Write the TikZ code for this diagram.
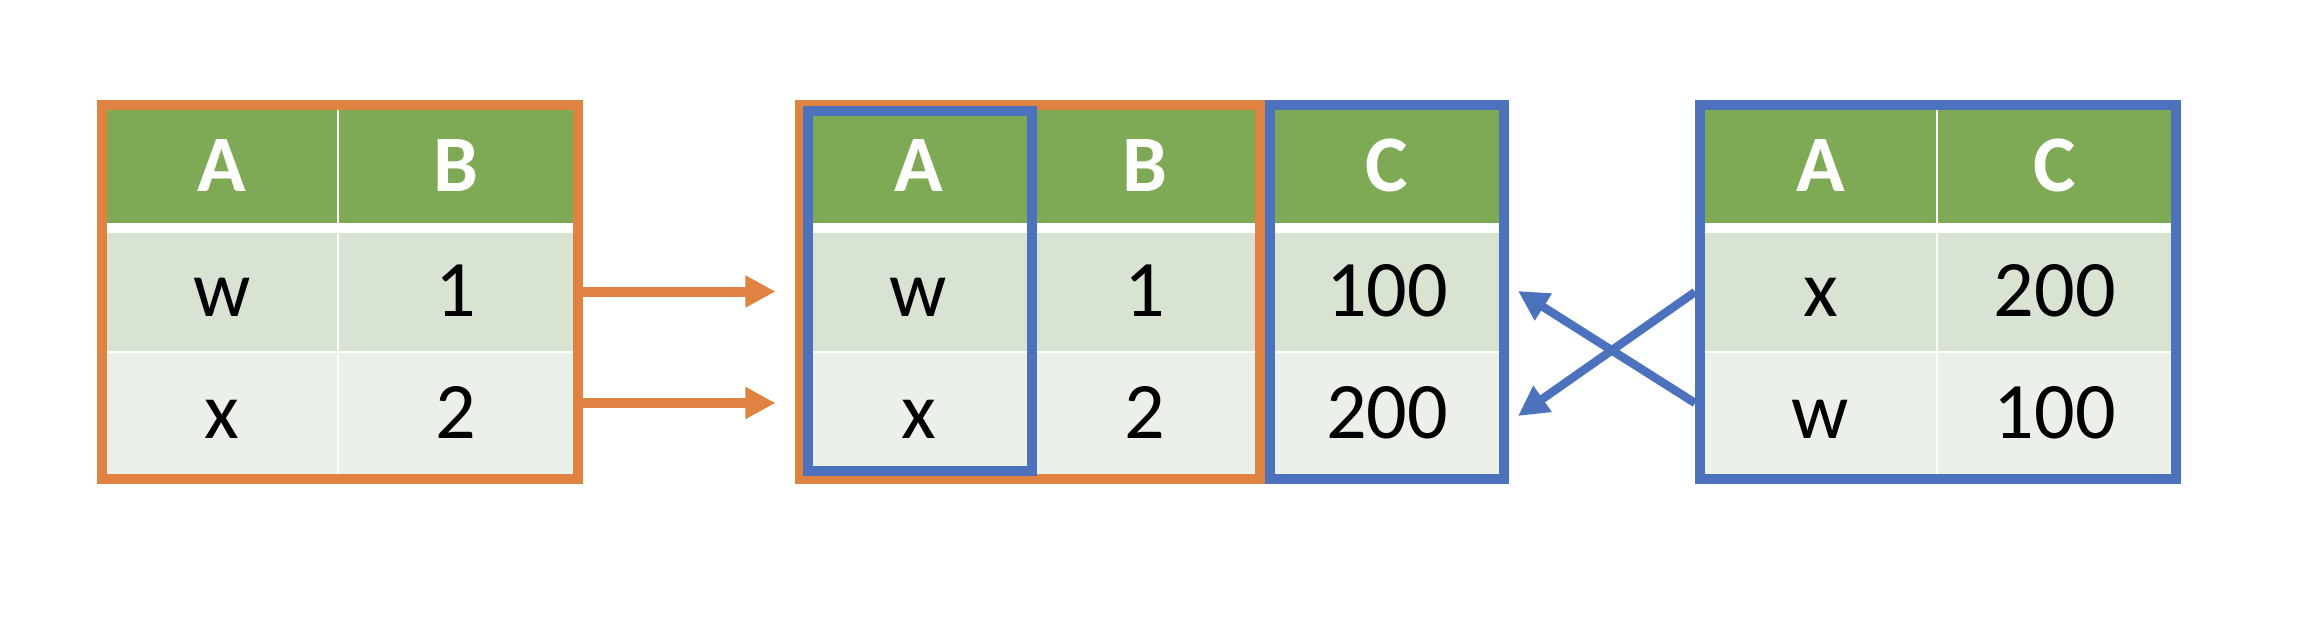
\documentclass[tikz,border=0pt]{standalone}
\usepackage{fontspec}
\setmainfont{Carlito}
\usetikzlibrary{arrows.meta}

\definecolor{hdgreen}{RGB}{127,170,85}
\definecolor{rowone}{RGB}{217,227,210}
\definecolor{rowtwo}{RGB}{235,240,232}
\definecolor{joinorange}{RGB}{224,130,66}
\definecolor{joinblue}{RGB}{76,114,190}

\begin{document}
\begin{tikzpicture}[x=0.01cm,y=-0.01cm,>={Triangle[length=0.3cm,width=0.3cm]},
                    line width=0.1cm]
  \tikzstyle{cell}=[draw=none,inner sep=0pt,text height=0.5cm,text depth=0pt,
                    font=\fontsize{22.8}{27}\selectfont]
  \tikzstyle{head}=[cell,fill=hdgreen,text=white,minimum height=1.127cm,
                    font=\fontsize{22.8}{27}\selectfont\bfseries]
  \tikzstyle{rowa}=[cell,fill=rowone,minimum height=1.183cm]
  \tikzstyle{rowb}=[cell,fill=rowtwo,minimum height=1.205cm]
  \tikzstyle{orangeframe}=[draw=joinorange]
  \tikzstyle{blueframe}=[draw=joinblue]
  \tikzstyle{orangearrow}=[->,draw=joinorange]
  \tikzstyle{bluearrow}=[->,draw=joinblue,line width=0.085cm]

  \useasboundingbox (0,0) rectangle (2302,636);

  % left table
  \node[head,minimum width=2.30cm] (lA)  at (222,166.35) {A};
  \node[head,minimum width=2.34cm] (lB)  at (456,166.35) {B};
  \node[rowa,minimum width=2.30cm] (lAw) at (222,291.85) {w};
  \node[rowa,minimum width=2.34cm] (lB1) at (456,291.85) {1};
  \node[rowb,minimum width=2.30cm] (lAx) at (222,413.75) {x};
  \node[rowb,minimum width=2.34cm] (lB2) at (456,413.75) {2};
  \draw[orangeframe] (102,105) rectangle (578,479);

  % merged table
  \node[head,minimum width=2.27cm] (mA)    at (918.5,166.35)  {A};
  \node[head,minimum width=2.21cm] (mB)    at (1144.5,166.35) {B};
  \node[head,minimum width=2.24cm] (mC)    at (1387,166.35)   {C};
  \node[rowa,minimum width=2.27cm] (mAw)   at (918.5,291.85)  {w};
  \node[rowa,minimum width=2.21cm] (mB1)   at (1144.5,291.85) {1};
  \node[rowa,minimum width=2.24cm] (mC100) at (1387,291.85)   {100};
  \node[rowb,minimum width=2.27cm] (mAx)   at (918.5,413.75)  {x};
  \node[rowb,minimum width=2.21cm] (mB2)   at (1144.5,413.75) {2};
  \node[rowb,minimum width=2.24cm] (mC200) at (1387,413.75)   {200};
  \draw[orangeframe] (800,105) rectangle (1260,479);
  \draw[blueframe] (808,111) rectangle (1032,471);
  \draw[blueframe] (1270,105) rectangle (1504,479);

  % right table
  \node[head,minimum width=2.31cm]  (rA)    at (1820.5,166.35)  {A};
  \node[head,minimum width=2.325cm] (rC)    at (2054.75,166.35) {C};
  \node[rowa,minimum width=2.31cm]  (rAx)   at (1820.5,291.85)  {x};
  \node[rowa,minimum width=2.325cm] (rC200) at (2054.75,291.85) {200};
  \node[rowb,minimum width=2.31cm]  (rAw)   at (1820.5,413.75)  {w};
  \node[rowb,minimum width=2.325cm] (rC100) at (2054.75,413.75) {100};
  \draw[blueframe] (1700,105) rectangle (2176,479);

  \coordinate (lw)   at (583,291.5);
  \coordinate (lx)   at (583,403);
  \coordinate (mw)   at (775.5,291.5);
  \coordinate (mx)   at (775.5,403);
  \coordinate (rx)   at (1695,292);
  \coordinate (rw)   at (1695,403);
  \coordinate (m100) at (1518,291);
  \coordinate (m200) at (1518,416);

  \path (lw) edge[orangearrow] (mw)
        (lx) edge[orangearrow] (mx);
  \path (rx) edge[bluearrow] (m200)
        (rw) edge[bluearrow] (m100);

\end{tikzpicture}
\end{document}
